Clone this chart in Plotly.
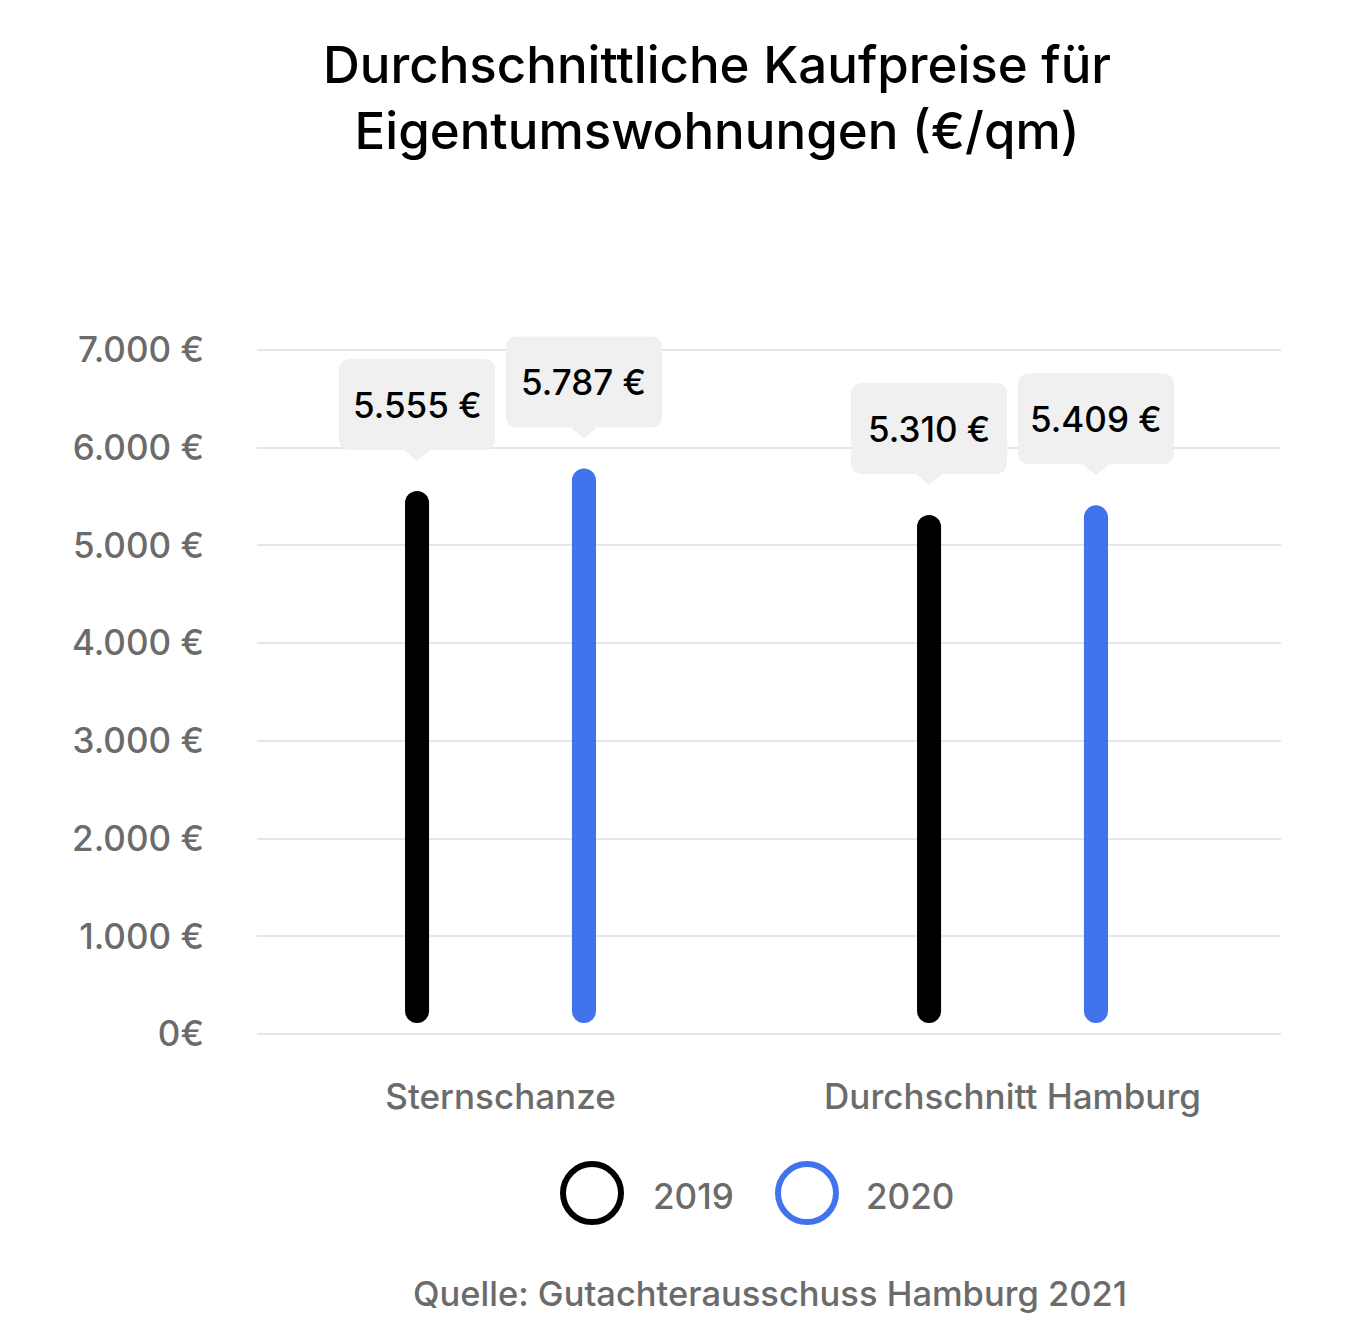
import plotly.graph_objects as go

# ---- data ----
categories = ["Sternschanze", "Durchschnitt Hamburg"]
series_names = ["2019", "2020"]
values_2019 = [5555, 5310]
values_2020 = [5787, 5409]
y_tick_values = [0, 1000, 2000, 3000, 4000, 5000, 6000, 7000]
y_tick_labels = ["0€", "1.000 €", "2.000 €", "3.000 €", "4.000 €", "5.000 €", "6.000 €", "7.000 €"]
title_text = "Durchschnittliche Kaufpreise für<br>Eigentumswohnungen (€/qm)"
source_text = "Quelle: Gutachterausschuss Hamburg 2021"

# ---- style ----
FONT = "Inter"
WEIGHT = 500
C2019 = "#000000"
C2020 = "#4174ec"
GREY = "#6b6b6b"
GRID = "#e6e6e6"
BAR_W = 0.047           # in x units
OFFS = [-0.163, 0.163]  # per series offset of bar centre
BOTTOM = 113            # pill bottom (leaves a small gap above the baseline)
TIP = 30                # px from bar top to tooltip pointer tip
Y_MIN, Y_MAX = -20, 7500

# page offset (body margin) compensation
OFF = 8
FIG_W, FIG_H = 1368 - 2 * OFF, 1342 - 2 * OFF
PL, PR = 257, 1281                       # desired plot x extents (window px)
SCALE = 684 / 7000                       # px per data unit
PB = 1034 - Y_MIN * SCALE                # plot bottom in window px
PT = 1034 - Y_MAX * SCALE                # plot top in window px
L = PL - OFF
R = FIG_W - (PR - OFF)
T = PT - OFF
B = FIG_H - (PB - OFF)

px = lambda v: (v - PL) / (PR - PL)
py = lambda v: (PB - v) / (PB - PT)

def fmt(v):
    return f"{v:,}".replace(",", ".") + " €"

xs = list(range(len(categories)))
series = [values_2019, values_2020]
colors = [C2019, C2020]

fig = go.Figure()
for si, (vals, col) in enumerate(zip(series, colors)):
    fig.add_trace(go.Bar(
        x=xs, y=[v - BOTTOM for v in vals], base=[BOTTOM] * len(vals),
        width=BAR_W, offset=OFFS[si] - BAR_W / 2,
        marker=dict(color=col, line=dict(width=0), cornerradius=12),
        name=series_names[si], showlegend=False, hoverinfo="skip"))

# tooltips
shapes = []
annotations = []
w, r, ph, pw, bh = 78, 12, 11, 13, 91
for si, vals in enumerate(series):
    for ci, v in enumerate(vals):
        xpos = xs[ci] + OFFS[si]
        d = TIP
        b = d + ph
        t = b + bh
        path = (f"M 0,{d} L {pw},{b} L {w-r},{b} Q {w},{b} {w},{b+r} L {w},{t-r} "
                f"Q {w},{t} {w-r},{t} L {-w+r},{t} Q {-w},{t} {-w},{t-r} L {-w},{b+r} "
                f"Q {-w},{b} {-w+r},{b} L {-pw},{b} Z")
        shapes.append(dict(type="path", xref="x", yref="y", xsizemode="pixel", ysizemode="pixel",
                           xanchor=xpos, yanchor=v, path=path, fillcolor="#f0f0f0",
                           line=dict(width=0), layer="above"))
        annotations.append(dict(x=xpos, y=v, xref="x", yref="y", text=fmt(v), showarrow=False,
                                yshift=(b + t) / 2,
                                font=dict(family=FONT, size=35, color="#000", weight=WEIGHT),
                                xanchor="center", yanchor="middle"))

# title
annotations.append(dict(x=px(717), y=py(98), xref="paper", yref="paper", text=title_text,
                        showarrow=False, xanchor="center", yanchor="middle",
                        font=dict(family=FONT, size=51, color="#000", weight=WEIGHT)))
# legend
leg_x = [592, 807]
leg_tx = [651, 864]
for si in range(2):
    shapes.append(dict(type="circle", xref="paper", yref="paper", xsizemode="pixel", ysizemode="pixel",
                       xanchor=px(leg_x[si]), yanchor=py(1193), x0=-29, x1=29, y0=-29, y1=29,
                       line=dict(color=colors[si], width=6), fillcolor="rgba(0,0,0,0)"))
    annotations.append(dict(x=px(leg_tx[si]), y=py(1196), xref="paper", yref="paper",
                            text=series_names[si], showarrow=False, xanchor="left", yanchor="middle",
                            font=dict(family=FONT, size=35, color=GREY, weight=WEIGHT)))
# source
annotations.append(dict(x=px(769.5), y=py(1293), xref="paper", yref="paper", text=source_text,
                        showarrow=False, xanchor="center", yanchor="middle",
                        font=dict(family=FONT, size=34.5, color=GREY, weight=WEIGHT)))

fig.update_layout(
    width=FIG_W, height=FIG_H,
    margin=dict(l=L, r=R, t=T, b=B, pad=0),
    paper_bgcolor="white", plot_bgcolor="white",
    barmode="overlay",
    showlegend=False,
    shapes=shapes, annotations=annotations,
    xaxis=dict(range=[-0.4756, 1.5244], tickvals=xs, ticktext=categories,
               showgrid=False, zeroline=False, showline=False,
               ticks="outside", ticklen=30, tickcolor="rgba(0,0,0,0)",
               tickfont=dict(family=FONT, size=35, color=GREY, weight=WEIGHT), fixedrange=True),
    yaxis=dict(range=[Y_MIN, Y_MAX], tickvals=y_tick_values, ticktext=y_tick_labels,
               showgrid=True, gridcolor=GRID, gridwidth=2, zeroline=False, showline=False,
               ticks="outside", ticklen=45, tickcolor="rgba(0,0,0,0)",
               tickfont=dict(family=FONT, size=35, color=GREY, weight=WEIGHT), fixedrange=True),
)

fig.write_html("out.html")
